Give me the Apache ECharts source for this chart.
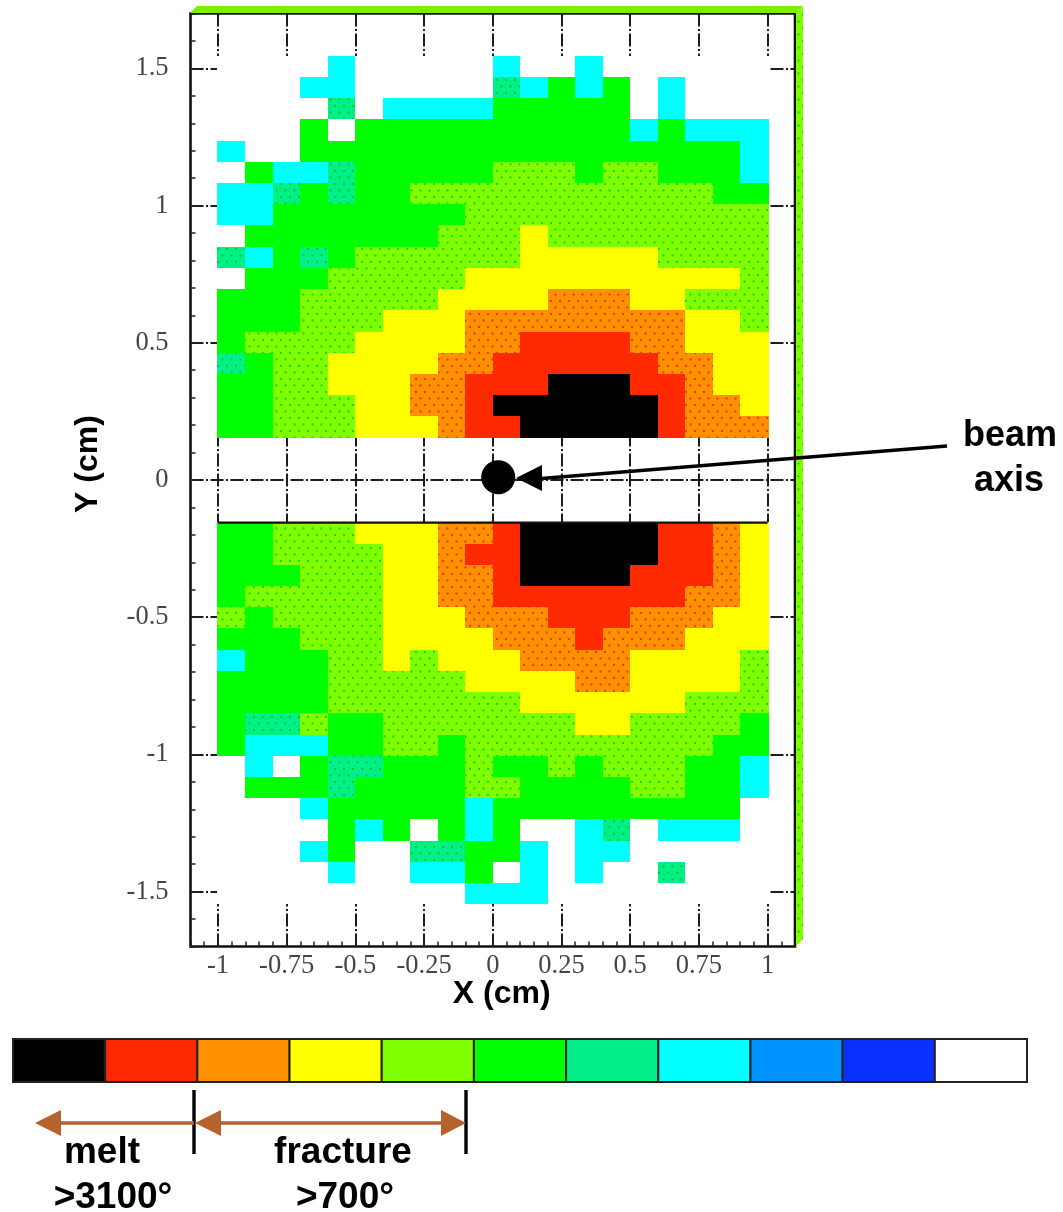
<!DOCTYPE html>
<html>
<head>
<meta charset="utf-8">
<style>html,body{margin:0;padding:0;background:#fff}#c{width:1063px;height:1212px}</style>
<script src="https://cdn.jsdelivr.net/npm/echarts@6/dist/echarts.min.js"></script>
</head>
<body>
<div id="c"></div>
<script>
const _ = 10; // white / below the lowest bin
const levelColors = ['#000000','#ff2a00','#ff9000','#ffff00','#80ff00','#00ff00','#00f088','#00ffff','#0094ff','#0a32ff','#ffffff'];
const stippleColors = {2:'#f03a10',4:'#14dc14',6:'#08c830'};
const xTickValues = [-1,-0.75,-0.5,-0.25,0,0.25,0.5,0.75,1];
const yTickValues = [-1.5,-1,-0.5,0,0.5,1,1.5];
const xCenters = [-0.95,-0.85,-0.75,-0.65,-0.55,-0.45,-0.35,-0.25,-0.15,-0.05,0.05,0.15,0.25,0.35,0.45,0.55,0.65,0.75,0.85,0.95];
const rowStep = 0.0773;
const yEdge = 1.546;
const topRows = [
 [_,_,_,_,7,_,_,_,_,_,7,_,_,7,_,_,_,_,_,_],
 [_,_,_,7,7,_,_,_,_,_,6,7,5,7,5,_,7,_,_,_],
 [_,_,_,_,6,_,7,7,7,7,5,5,5,5,5,_,7,_,_,_],
 [_,_,_,5,_,5,5,5,5,5,5,5,5,5,5,7,5,7,7,7],
 [7,_,_,5,5,5,5,5,5,5,5,5,5,5,5,5,5,5,5,7],
 [_,5,7,7,6,5,5,5,5,5,4,4,4,5,4,4,5,5,5,7],
 [7,7,6,5,6,5,5,4,4,4,4,4,4,4,4,4,4,4,5,5],
 [7,7,5,5,5,5,5,5,5,4,4,4,4,4,4,4,4,4,4,4],
 [_,5,5,5,5,5,5,5,4,4,4,3,4,4,4,4,4,4,4,4],
 [6,7,5,6,5,4,4,4,4,4,4,3,3,3,3,3,4,4,4,4],
 [_,5,5,5,4,4,4,4,4,3,3,3,3,3,3,3,3,3,3,4],
 [5,5,5,4,4,4,4,4,3,3,3,3,2,2,2,3,3,4,4,4],
 [5,5,5,4,4,4,3,3,3,2,2,2,2,2,2,2,2,3,3,4],
 [5,4,4,4,4,3,3,3,3,2,2,1,1,1,1,2,2,3,3,3],
 [6,5,4,4,3,3,3,3,2,2,1,1,1,1,1,1,2,2,3,3],
 [5,5,4,4,3,3,3,2,2,1,1,1,0,0,0,1,1,2,3,3],
 [5,5,4,4,4,3,3,2,2,1,0,0,0,0,0,0,1,2,2,3],
 [5,5,4,4,4,3,3,3,2,1,1,0,0,0,0,0,1,2,2,2]
];
const bottomRows = [
 [5,5,4,4,4,3,3,3,2,2,1,0,0,0,0,0,1,1,2,3],
 [5,5,4,4,4,4,3,3,2,1,1,0,0,0,0,0,1,1,2,3],
 [5,5,5,4,4,4,3,3,2,2,1,0,0,0,0,1,1,1,2,3],
 [5,4,4,4,4,4,3,3,2,2,1,1,1,1,1,1,1,2,2,3],
 [4,5,4,4,4,4,3,3,3,2,2,2,1,1,1,2,2,2,3,3],
 [5,5,5,4,4,4,3,3,3,3,2,2,2,1,2,2,2,3,3,3],
 [7,5,5,5,4,4,3,4,3,3,3,2,2,2,2,3,3,3,3,4],
 [5,5,5,5,4,4,4,4,4,3,3,3,3,2,2,3,3,3,3,4],
 [5,5,5,5,4,4,4,4,4,4,4,3,3,3,3,3,3,4,4,4],
 [5,6,6,4,5,5,4,4,4,4,4,4,4,3,3,4,4,4,4,5],
 [5,7,7,7,5,5,4,4,5,4,4,4,4,4,4,4,4,4,5,5],
 [_,7,_,5,6,6,5,5,5,4,5,5,4,5,4,4,4,5,5,7],
 [_,5,5,5,6,5,5,5,5,4,4,5,5,5,5,4,4,5,5,7],
 [_,_,_,7,5,5,5,5,5,7,5,5,5,5,5,5,5,5,5,_],
 [_,_,_,_,5,7,5,_,5,7,5,_,_,7,6,_,7,7,7,_],
 [_,_,_,7,5,_,_,6,6,5,5,7,_,7,7,_,_,_,_,_],
 [_,_,_,_,7,_,_,7,7,5,_,7,_,7,_,_,6,_,_,_],
 [_,_,_,_,_,_,_,_,_,7,7,7,_,_,_,_,_,_,_,_]
];
const legendLevels = [0,1,2,3,4,5,6,7,8,9,10];
const beamAxisPoint = [[0.02,0.01]];
const gapEdgeLine = [[-1,-0.155],[1,-0.155]];

function makeStipple(base, dot){
  const cv = document.createElement('canvas');
  cv.width = 9; cv.height = 13;
  const g = cv.getContext('2d');
  g.fillStyle = base; g.fillRect(0,0,9,13);
  g.fillStyle = dot;
  [[2,2],[6.5,8.5]].forEach(p => {
    g.beginPath(); g.arc(p[0],p[1],1.15,0,Math.PI*2); g.fill();
  });
  return {image: cv, repeat: 'repeat'};
}
const levelFill = levelColors.map((c,i) => stippleColors[i] ? makeStipple(c, stippleColors[i]) : c);

// row r of the plotted band, counted from the top edge; the four rows in the middle stay open
const cellData = [];
topRows.forEach((row,r) => row.forEach((v,c) => cellData.push([c, r, v])));
bottomRows.forEach((row,r) => row.forEach((v,c) => cellData.push([c, r + 22, v])));
const edgeY = k => yEdge - rowStep * k;

const dash = [13,2.5,2,2.5];
const lab = {fontFamily:'"Liberation Serif"', fontSize:26.5, color:'#454545'};
const chart = echarts.init(document.getElementById('c'), null, {renderer:'canvas'});
const bold = {fontFamily:'"Liberation Sans"', fontWeight:'bold', fill:'#000', fontSize:37, textAlign:'center', textVerticalAlign:'middle'};
const brown = '#b5622f';
const txt = (t,x,y,s) => ({type:'text', z:100, x, y, style:Object.assign({}, bold, {text:t}, s?{fontSize:s}:{})});
const seg = (x1,y1,x2,y2,stroke,w) => ({type:'line', z:100, shape:{x1,y1,x2,y2}, style:{stroke, lineWidth:w}});
const tri = (pts,fill) => ({type:'polygon', z:100, shape:{points:pts}, style:{fill}});

chart.setOption({
  animation:false,
  backgroundColor:'#fff',
  grid:[
    {left:190.5, top:13.5, width:604.5, height:933, show:true, borderColor:'#111', borderWidth:2.6, backgroundColor:'#fff'},
    {left:13, top:1039, width:1014, height:43}
  ],
  xAxis:[
    {type:'value', gridIndex:0, min:-1.1, max:1.1, position:'bottom',
     name:'X (cm)', nameLocation:'middle', nameGap:32, nameMoveOverlap:false,
     nameTextStyle:{fontFamily:'"Liberation Sans"', fontWeight:'bold', fontSize:32, color:'#000', padding:[0,0,0,18]},
     axisLine:{show:false, onZero:false},
     axisTick:{show:true, customValues:xTickValues, inside:true, length:10, lineStyle:{color:'#222', width:1.5}},
     axisLabel:{show:true, customValues:xTickValues, margin:6, formatter:v=>String(v), ...lab},
     splitLine:{show:true, lineStyle:{color:'#1c1c1c', width:2, type:dash}}},
    {type:'value', gridIndex:0, min:-1.1, max:1.1, interval:0.05, position:'bottom',
     axisLine:{show:false, onZero:false}, axisLabel:{show:false}, splitLine:{show:false},
     axisTick:{show:true, inside:true, length:5, lineStyle:{color:'#222', width:1.5}}},
    {type:'value', gridIndex:1, min:0, max:11, show:false}
  ],
  yAxis:[
    {type:'value', gridIndex:0, min:-1.7, max:1.7, position:'left',
     name:'Y (cm)', nameLocation:'middle', nameGap:86, nameMoveOverlap:false,
     nameTextStyle:{fontFamily:'"Liberation Sans"', fontWeight:'bold', fontSize:32, color:'#000', padding:[0,0,0,32]},
     axisLine:{show:false, onZero:false},
     axisTick:{show:true, customValues:yTickValues, inside:true, length:10, lineStyle:{color:'#222', width:1.5}},
     axisLabel:{show:true, customValues:yTickValues, margin:22, padding:[4,0,0,0], formatter:v=>String(v), ...lab},
     splitLine:{show:true, lineStyle:{color:'#1c1c1c', width:2, type:dash}}},
    {type:'value', gridIndex:0, min:-1.7, max:1.7, interval:0.1, position:'left',
     axisLine:{show:false, onZero:false}, axisLabel:{show:false}, splitLine:{show:false},
     axisTick:{show:true, inside:true, length:5, lineStyle:{color:'#222', width:1.5}}},
    {type:'value', gridIndex:1, min:0, max:1, show:false}
  ],
  series:[
    {type:'custom', xAxisIndex:0, yAxisIndex:0, data:cellData, z:2, clip:false, silent:true,
     renderItem:(p,api)=>{
       const c = api.value(0), r = api.value(1);
       const a = api.coord([xCenters[c]-0.05, edgeY(r)]);
       const b = api.coord([xCenters[c]+0.05, edgeY(r+1)]);
       const x0 = Math.round(a[0]) - (c===0?1:0), x1 = Math.round(b[0]) + (c===19?1:0);
       const y0 = Math.round(a[1]), y1 = Math.round(b[1]);
       return {type:'rect', shape:{x:x0,y:y0,width:x1-x0,height:y1-y0}, style:{fill:levelFill[api.value(2)]}};
     }},
    {type:'line', xAxisIndex:0, yAxisIndex:0, data:gapEdgeLine, z:3, symbol:'none', silent:true,
     lineStyle:{color:'#111', width:2.2}},
    {type:'scatter', xAxisIndex:0, yAxisIndex:0, data:beamAxisPoint, z:4, symbol:'circle', symbolSize:34, silent:true,
     itemStyle:{color:'#000', opacity:1}},
    {type:'custom', xAxisIndex:2, yAxisIndex:2, data:legendLevels.map(l=>[l,l]), z:2, silent:true, clip:false,
     encode:{x:0},
     renderItem:(p,api)=>{
       const l = api.value(0);
       const a = api.coord([l,1]), b = api.coord([l+1,0]);
       return {type:'rect', shape:{x:a[0],y:a[1],width:b[0]-a[0],height:b[1]-a[1]},
               style:{fill:levelColors[l], stroke:'#222', lineWidth:2}};
     }}
  ],
  graphic:[
    {type:'polygon', z:1, shape:{points:[[190,13],[197,6],[803,6],[796,13]]}, style:{fill:'#7fee00'}},
    {type:'polygon', z:1, shape:{points:[[796,13],[803,6],[803,939],[796,946]]}, style:{fill:levelFill[4]}},
    seg(947,446,535,479,'#000',3.4),
    tri([[516,478],[542,465],[542,491]],'#000'),
    txt('beam',1010,436,36), txt('axis',1009,481,36),
    seg(194,1090,194,1154,'#000',3.4),
    seg(466,1090,466,1154,'#000',3.4),
    seg(58,1123,194,1123,brown,3.6),
    tri([[35,1123],[61,1110],[61,1136]],brown),
    seg(218,1123,444,1123,brown,3.6),
    tri([[195,1123],[221,1110],[221,1136]],brown),
    tri([[466,1123],[441,1110],[441,1136]],brown),
    txt('melt',102,1153), txt('>3100°',113,1198),
    txt('fracture',343,1153), txt('>700°',345,1198)
  ]
});
</script>
</body>
</html>
